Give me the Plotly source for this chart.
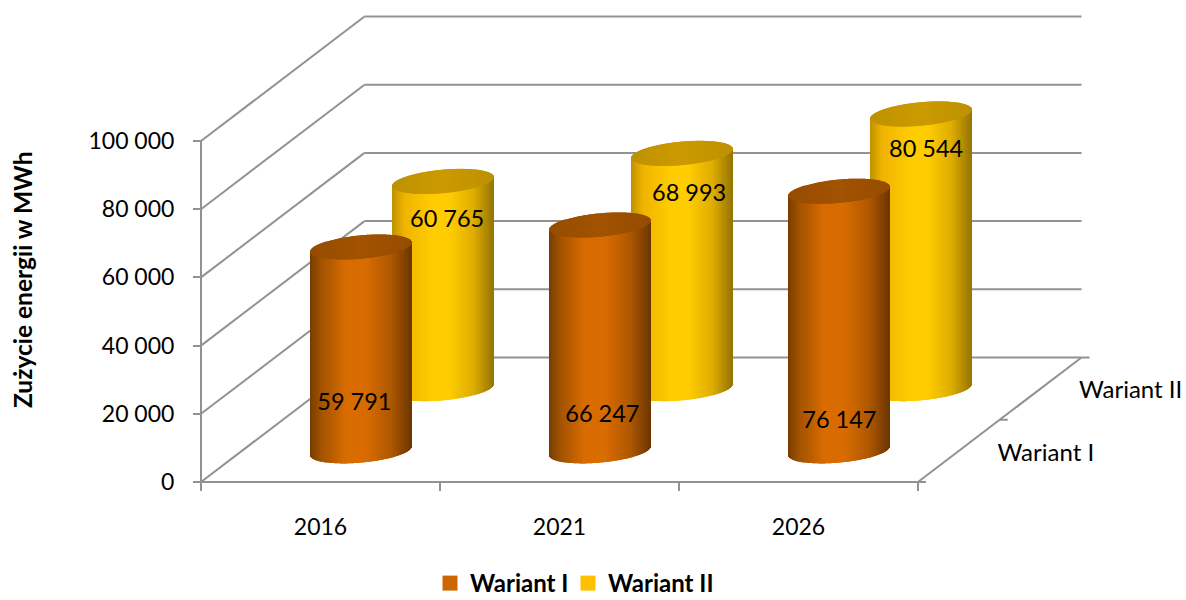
import plotly.graph_objects as go

# ---- data ----
CATEGORIES = ["2016", "2021", "2026"]
SERIES_NAMES = ["Wariant I", "Wariant II"]
WARIANT_I = [59791, 66247, 76147]
WARIANT_II = [60765, 68993, 80544]
VALUE_TICKS = [0, 20000, 40000, 60000, 80000, 100000]
VALUE_LABELS = ["0", "20 000", "40 000", "60 000", "80 000", "100 000"]
LABELS_I = ["59 791", "66 247", "76 147"]
LABELS_II = ["60 765", "68 993", "80 544"]

# ---- geometry (pixel scale of the oblique projection) ----
W, H = 1186, 600
X0, Y0 = 201, 482            # front-left floor corner
CAT_PX = 239                 # px per category
VAL_PX = 3.41 / 1000         # px per value unit
DEPTH_DX, DEPTH_DY = 163.5, 124.5
RAD_PX, ELL_PX, SHEAR_PX = 50.2, 11.7, 4.5
FONT = "Lato"
GRID = "#929292"


def cx(px):
    return px / CAT_PX


def vy(px):
    return px / VAL_PX


def proj(cat, depth, val):
    return cat + cx(depth * DEPTH_DX), val + vy(depth * DEPTH_DY)


def mix(stops, t):
    for (t0, c0), (t1, c1) in zip(stops, stops[1:]):
        if t <= t1:
            f = (t - t0) / (t1 - t0)
            return "rgb(%d,%d,%d)" % tuple(a + (b - a) * f for a, b in zip(c0, c1))
    return "rgb(%d,%d,%d)" % stops[-1][1]


BODY_I = [(0, (120, 60, 0)), (.12, (165, 84, 0)), (.35, (217, 108, 0)), (.55, (217, 108, 0)),
          (.8, (175, 88, 0)), (1, (110, 55, 0))]
BODY_II = [(0, (190, 145, 0)), (.12, (240, 180, 0)), (.4, (255, 204, 0)), (.58, (255, 204, 0)),
           (.8, (225, 175, 0)), (1, (150, 118, 0))]
CAP_I = [(0, (150, 76, 0)), (.5, (163, 83, 0)), (1, (150, 76, 0))]
CAP_II = [(0, (190, 145, 0)), (.5, (205, 155, 0)), (1, (190, 145, 0))]


def cylinder(cat, depth, value, body, cap):
    xc, base = proj(cat, depth, 0)
    n = int(2 * RAD_PX)
    xs, bases, ys, cols, widths = [], [], [], [], []
    cxs, cb, cy, cc, cw = [], [], [], [], []
    for i in range(n):
        t = (i + .5) / n
        u = 2 * t - 1
        half = (1 - u * u) ** .5
        sh = vy(SHEAR_PX) * u
        el = vy(ELL_PX) * half
        x = xc + cx(RAD_PX) * u
        lo = base + sh - el
        top = base + value + sh
        xs.append(x); bases.append(lo); ys.append(top - lo); cols.append(mix(body, t)); widths.append(cx(1.5))
        cxs.append(x); cb.append(top - el); cy.append(2 * el); cc.append(mix(cap, t)); cw.append(cx(1.5))
    return (go.Bar(x=xs + cxs, y=ys + cy, base=bases + cb, width=widths + cw,
                   marker=dict(color=cols + cc, line=dict(width=0)),
                   showlegend=False, hoverinfo="skip"))


fig = go.Figure()

# back row first, so the front row covers it
for depth, vals, body, cap in [(.75, WARIANT_II, BODY_II, CAP_II), (.25, WARIANT_I, BODY_I, CAP_I)]:
    for i, v in enumerate(vals):
        fig.add_trace(cylinder(i + .5, depth, v, body, cap))

# legend entries, one legend each so that the spacing can match
for name, col, leg in zip(SERIES_NAMES, ["#CC6600", "#FFC000"], ["legend", "legend2"]):
    fig.add_trace(go.Scatter(x=[None], y=[None], mode="markers", name=name, legend=leg,
                             marker=dict(symbol="square", size=15, color=col)))

# data labels: placed relative to the middle of each cylinder, offsets in px (right, down)
OFFSETS_I = [(-7, 55), (2, 78), (0, 100.6)]
OFFSETS_II = [(4, -64), (7, -76), (5, -100)]


def label_trace(names, vals, depth, offs):
    xs, ys = [], []
    for i, (v, (dx, dy)) in enumerate(zip(vals, offs)):
        x, y = proj(i + .5, depth, v * .5)
        xs.append(x + cx(dx)); ys.append(y - vy(dy))
    return go.Scatter(x=xs, y=ys, mode="text", text=names, textposition="middle center",
                      textfont=dict(family=FONT, size=23.5, color="#000"),
                      showlegend=False, hoverinfo="skip", cliponaxis=False)


fig.add_trace(label_trace(LABELS_I, WARIANT_I, .25, OFFSETS_I))
fig.add_trace(label_trace(LABELS_II, WARIANT_II, .75, OFFSETS_II))

# depth axis labels
dx_l, dy_l = proj(3, .25, 0), proj(3, .75, 0)
fig.add_trace(go.Scatter(x=[dx_l[0] + cx(87), dy_l[0] + cx(90)], y=[dx_l[1] + vy(-4), dy_l[1] + vy(-3)],
                         mode="text", text=SERIES_NAMES, textposition="middle center",
                         textfont=dict(family=FONT, size=24, color="#000"),
                         showlegend=False, hoverinfo="skip", cliponaxis=False))

# walls, floor and axis lines
shapes = []


def seg(p, q):
    shapes.append(dict(type="line", xref="x", yref="y", x0=p[0], y0=p[1], x1=q[0], y1=q[1],
                       layer="below", line=dict(color=GRID, width=2)))


for v in VALUE_TICKS:
    seg(proj(0, 0, v), proj(0, 1, v))
    seg(proj(0, 1, v), proj(3, 1, v))
seg(proj(0, 0, 0), proj(0, 0, 100000))
seg(proj(0, 0, 0), proj(3, 0, 0))
seg(proj(3, 0, 0), proj(3, 1, 0))
for d in (0, .5, 1):
    a = proj(3, d, 0)
    seg(a, (a[0] + cx(8), a[1]))

legend_font = dict(family=FONT, size=24, color="#000", weight="bold")
fig.update_layout(
    width=W, height=H, margin=dict(l=0, r=0, t=0, b=0, autoexpand=False),
    paper_bgcolor="white", plot_bgcolor="white", barmode="overlay",
    shapes=shapes, showlegend=True,
    legend=dict(x=430 / W, y=-6 / H, xanchor="left", yanchor="bottom",
                font=legend_font, bgcolor="rgba(0,0,0,0)"),
    legend2=dict(x=568 / W, y=-6 / H, xanchor="left", yanchor="bottom",
                 font=legend_font, bgcolor="rgba(0,0,0,0)"),
    annotations=[dict(text="<b>Zużycie energii w MWh</b>", xref="paper", yref="paper",
                      x=22 / W, y=1 - 280 / H, textangle=-90,
                      showarrow=False, xanchor="center", yanchor="middle",
                      font=dict(family=FONT, size=24.5, color="#000"))],
    xaxis=dict(range=[cx(-X0), cx(W - X0)], domain=[0, 1], anchor="free", position=(H - Y0) / H,
               showgrid=False, zeroline=False, showline=False,
               tickmode="array", tickvals=[i + .5 for i in range(3)], ticktext=CATEGORIES,
               ticks="outside", ticklen=24, tickcolor="rgba(0,0,0,0)",
               tickfont=dict(family=FONT, size=23, color="#000"),
               minor=dict(tickmode="array", tickvals=[0, 1, 2, 3], ticks="outside", ticklen=8,
                          tickcolor=GRID, tickwidth=2, showgrid=False)),
    yaxis=dict(range=[vy(Y0 - H), vy(Y0)], domain=[0, 1], anchor="free", position=X0 / W,
               showgrid=False, zeroline=False, showline=False,
               tickmode="array", tickvals=VALUE_TICKS, ticktext=VALUE_LABELS,
               ticks="outside", ticklen=8, tickcolor=GRID, tickwidth=2,
               ticklabelstandoff=14,
               tickfont=dict(family=FONT, size=23, color="#000")),
)

# the browser's default page margin would otherwise shift and clip the figure
fig.write_html("out.html", config=dict(displayModeBar=False),
               post_script="document.body.style.margin='0';")
